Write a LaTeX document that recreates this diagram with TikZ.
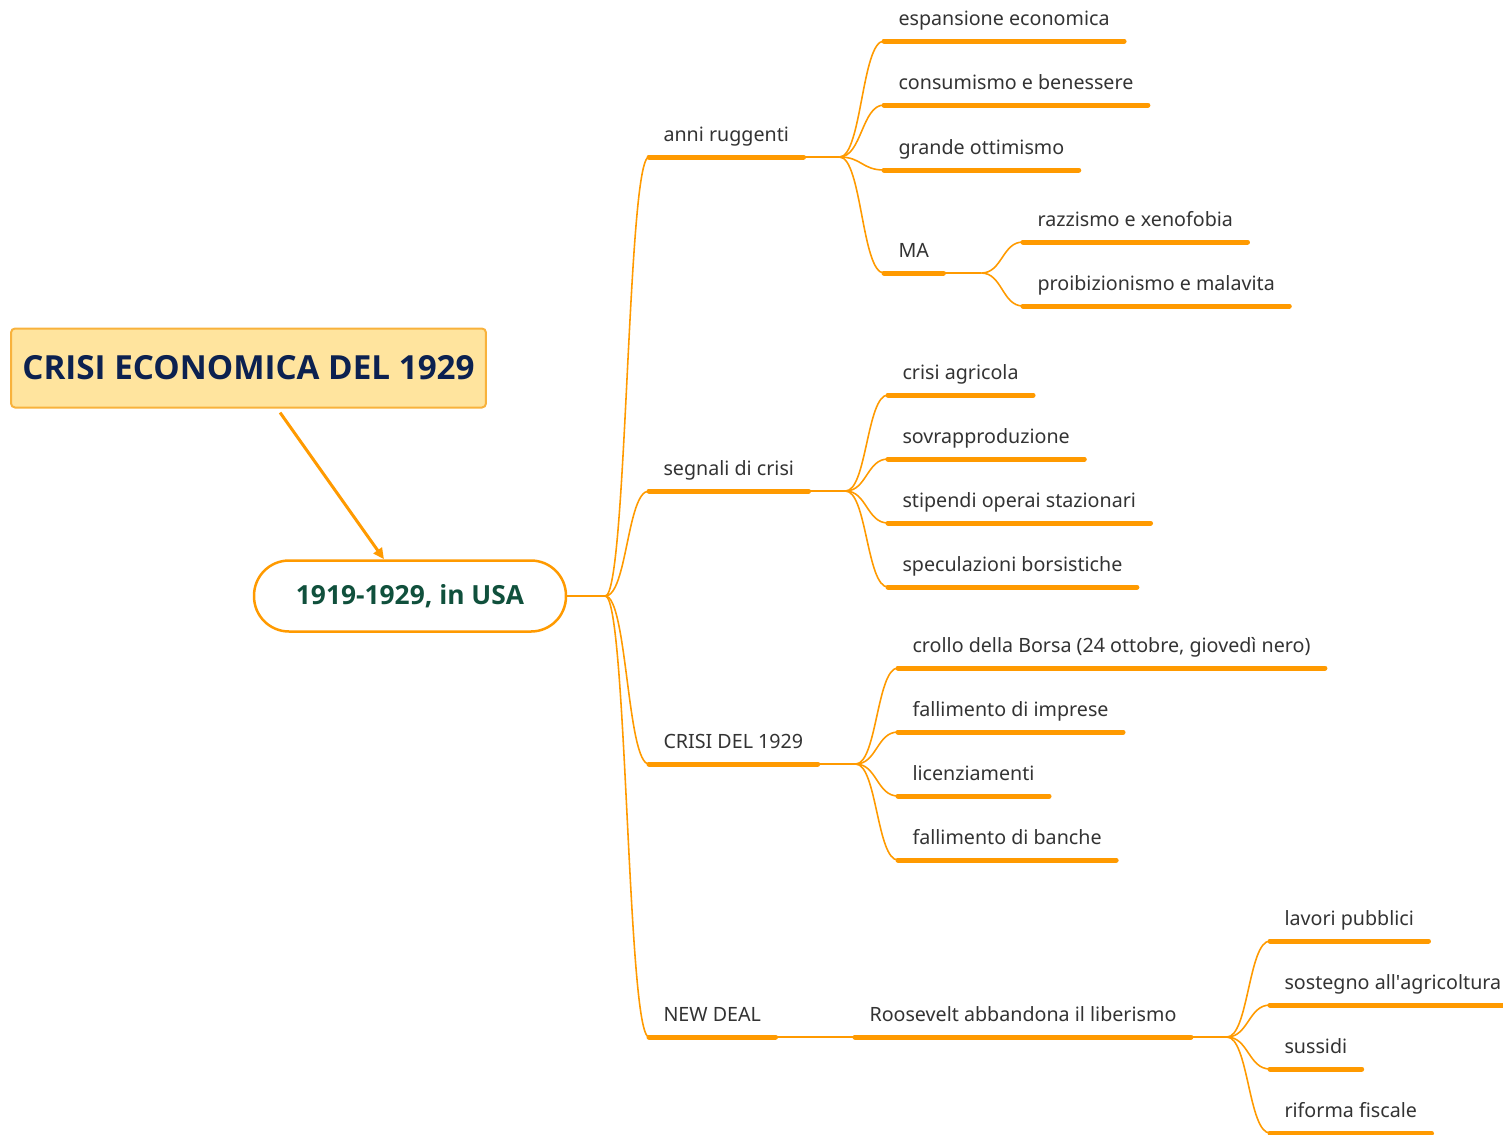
\documentclass[tikz,border=0pt]{standalone}
\usepackage{fontspec}
\setmainfont{Noto Sans}
\newfontfamily\headfont{Open Sans}
\usetikzlibrary{calc}
\usetikzlibrary{positioning}
\usetikzlibrary{arrows.meta}
\definecolor{lineorange}{HTML}{FF9A00}
\definecolor{titlefill}{HTML}{FFE49E}
\definecolor{titledraw}{HTML}{F8B23C}
\definecolor{titletext}{HTML}{0C2150}
\definecolor{roottext}{HTML}{10503C}
\definecolor{topictext}{HTML}{333333}
\tikzset{
  topic/.style={anchor=south west, inner xsep=0.29cm, inner ysep=0pt, text depth=0.32cm, outer sep=0pt,
    text=topictext, font=\fontsize{11.2}{13}\selectfont},
  bar/.style={draw=lineorange, line width=0.1cm, line cap=round},
  twig/.style={draw=lineorange, line width=0.9pt},
  branch/.style={to path={.. controls ($(\tikztostart)!0.5!(\tikztostart -| \tikztotarget)$)
    and ($(\tikztotarget)!0.5!(\tikztotarget -| \tikztostart)$) .. (\tikztotarget)}}
}
\begin{document}
\begin{tikzpicture}[x=0.02cm, y=-0.02cm]
\useasboundingbox (0,0) rectangle (1503,1134);
% Title box and central topic
\node[draw=titledraw, fill=titlefill, line width=0.04cm, rounded corners=0.08cm, minimum width=9.5cm, minimum height=1.58cm,
  text=titletext, font=\headfont\bfseries\fontsize{18.9}{22}\selectfont] (title) at (248.5,368) {CRISI ECONOMICA DEL 1929};
\node[draw=lineorange, line width=0.05cm, rounded corners=0.7cm, minimum width=6.24cm, minimum height=1.42cm,
  text=roottext, font=\headfont\bfseries\fontsize{15}{18}\selectfont] (root) at (410,596) {1919-1929, in USA};
\draw[lineorange, line width=0.06cm, -{Triangle[length=0.22cm,width=0.2cm]}, shorten <=0.1cm] (title) -- (root);
% Main branches
\coordinate[right=0.76cm of root.east] (r-b);
\draw[twig] (root.east) -- (r-b);
\foreach \n/\y/\t in {a/157/anni ruggenti, s/491/segnali di crisi, c/764/CRISI DEL 1929, d/1037/NEW DEAL}{
  \node[topic] (\n) at (649,\y) {\t};
  \draw[bar] (\n.south west) -- (\n.south east);
  \draw[twig] (r-b) to[branch] (\n.south west);
}
% anni ruggenti
\coordinate[right=0.72cm of a.south east] (a-b);
\draw[twig] (a.south east) -- (a-b);
\foreach \n/\y/\t in {a1/41/espansione economica, a2/105/consumismo e benessere, a3/170/grande ottimismo, a4/273/MA}{
  \node[topic] (\n) at (884,\y) {\t};
  \draw[bar] (\n.south west) -- (\n.south east);
  \draw[twig] (a-b) to[branch] (\n.south west);
}
\coordinate[right=0.76cm of a4.south east] (a4-b);
\draw[twig] (a4.south east) -- (a4-b);
\foreach \n/\y/\t in {a41/242/razzismo e xenofobia, a42/306/proibizionismo e malavita}{
  \node[topic] (\n) at (1023,\y) {\t};
  \draw[bar] (\n.south west) -- (\n.south east);
  \draw[twig] (a4-b) to[branch] (\n.south west);
}
% segnali di crisi
\coordinate[right=0.74cm of s.south east] (s-b);
\draw[twig] (s.south east) -- (s-b);
\foreach \n/\y/\t in {s1/395/crisi agricola, s2/459/sovrapproduzione, s3/523/stipendi operai stazionari, s4/587/speculazioni borsistiche}{
  \node[topic] (\n) at (888,\y) {\t};
  \draw[bar] (\n.south west) -- (\n.south east);
  \draw[twig] (s-b) to[branch] (\n.south west);
}
% CRISI DEL 1929
\coordinate[right=0.76cm of c.south east] (c-b);
\draw[twig] (c.south east) -- (c-b);
\foreach \n/\y/\t in {c1/668/{crollo della Borsa (24 ottobre, giovedì nero)}, c2/732/fallimento di imprese, c3/796/licenziamenti, c4/860/fallimento di banche}{
  \node[topic] (\n) at (898,\y) {\t};
  \draw[bar] (\n.south west) -- (\n.south east);
  \draw[twig] (c-b) to[branch] (\n.south west);
}
% NEW DEAL
\node[topic] (d1) at (855,1037) {Roosevelt abbandona il liberismo};
\draw[bar] (d1.south west) -- (d1.south east);
\draw[twig] (d.south east) -- (d1.south west);
\coordinate[right=0.72cm of d1.south east] (d1-b);
\draw[twig] (d1.south east) -- (d1-b);
\foreach \n/\y/\t in {d11/941/lavori pubblici, d12/1005/{sostegno all\textquotesingle agricoltura}, d13/1069/sussidi, d14/1133/riforma fiscale}{
  \node[topic] (\n) at (1270,\y) {\t};
  \draw[bar] (\n.south west) -- (\n.south east);
  \draw[twig] (d1-b) to[branch] (\n.south west);
}
\end{tikzpicture}
\end{document}
